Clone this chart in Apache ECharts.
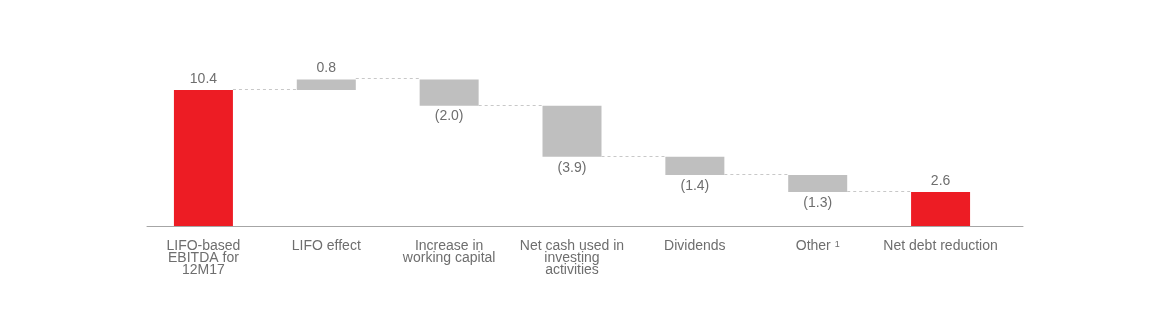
<!DOCTYPE html>
<html><head><meta charset="utf-8">
<script src="https://cdn.jsdelivr.net/npm/echarts@6/dist/echarts.min.js"></script>
<style>html,body{margin:0;padding:0;background:#fff}#c{width:1170px;height:321px}</style>
</head><body><div id="c"></div>
<script>
const categories = ['LIFO-based\nEBITDA for\n12M17', 'LIFO effect', 'Increase in\nworking capital', 'Net cash used in\ninvesting\nactivities', 'Dividends', 'Other {sup|1}', 'Net debt reduction'];
const values = [10.4, 0.8, -2.0, -3.9, -1.4, -1.3, 2.6];
const isTotal = [true, false, false, false, false, false, true];

// build start/end levels from the values
const starts = [], ends = [];
let run = 0;
values.forEach((v, i) => {
  if (isTotal[i]) { starts.push(0); ends.push(v); run = v; }
  else { starts.push(run); run = +(run + v).toFixed(2); ends.push(run); }
});
const data = values.map((v, i) => [i, starts[i], ends[i], v, isTotal[i] ? 1 : 0]);

const RED = '#ED1C24', GREY = '#BFBFBF', TXT = '#6E6E6E';
const fmt = v => v < 0 ? '(' + Math.abs(v).toFixed(1) + ')' : v.toFixed(1);

const chart = echarts.init(document.getElementById('c'), null, {renderer: 'canvas'});
chart.setOption({
  animation: false,
  grid: [
    {left: 142, right: 168, top: 69, bottom: 95},
    {left: 147, right: 147, top: 69, bottom: 95}
  ],
  xAxis: [
    {type: 'category', data: categories, gridIndex: 0,
     axisLine: {show: false}, axisTick: {show: false},
     axisLabel: {interval: 0, color: TXT, fontSize: 14, fontFamily: 'Liberation Sans, Arial, sans-serif',
       lineHeight: 12, margin: 14,
       rich: {sup: {fontSize: 9, verticalAlign: 'top', color: TXT, padding: [0, 0, 6, 0], lineHeight: 12}}}},
    {type: 'category', data: [''], gridIndex: 1,
     axisLine: {show: true, lineStyle: {color: '#A6A6A6', width: 1}}, axisTick: {show: false}, axisLabel: {show: false}}
  ],
  yAxis: [
    {type: 'value', min: 0, max: 12, show: false, gridIndex: 0},
    {type: 'value', min: 0, max: 12, show: false, gridIndex: 1}
  ],
  series: [{
    type: 'custom',
    xAxisIndex: 0, yAxisIndex: 0,
    data: data,
    renderItem: function (params, api) {
      const i = api.value(0), s = api.value(1), e = api.value(2), v = api.value(3), tot = api.value(4);
      const bw = 59;
      const pTop = api.coord([i, Math.max(s, e)]);
      const pBot = api.coord([i, Math.min(s, e)]);
      const children = [{
        type: 'rect',
        shape: {x: pTop[0] - bw / 2, y: pTop[1], width: bw, height: pBot[1] - pTop[1]},
        style: {fill: tot ? RED : GREY}
      }];
      const ty = v >= 0 ? pTop[1] - 4 : pBot[1] + 4;
      children.push({
        type: 'text',
        style: {text: fmt(v), x: pTop[0], y: ty, fill: TXT, font: '14px Liberation Sans, Arial, sans-serif',
          textAlign: 'center', textVerticalAlign: v >= 0 ? 'bottom' : 'top'}
      });
      if (i < categories.length - 1) {
        const a = api.coord([i, e]);
        const b = api.coord([i + 1, e]);
        children.push({
          type: 'line',
          shape: {x1: a[0] + bw / 2, y1: Math.round(a[1]) - 0.5, x2: b[0] - bw / 2, y2: Math.round(a[1]) - 0.5},
          style: {stroke: '#C8C8C8', lineWidth: 1, lineDash: [3, 3]}
        });
      }
      return {type: 'group', children: children};
    }
  }]
});
</script></body></html>
